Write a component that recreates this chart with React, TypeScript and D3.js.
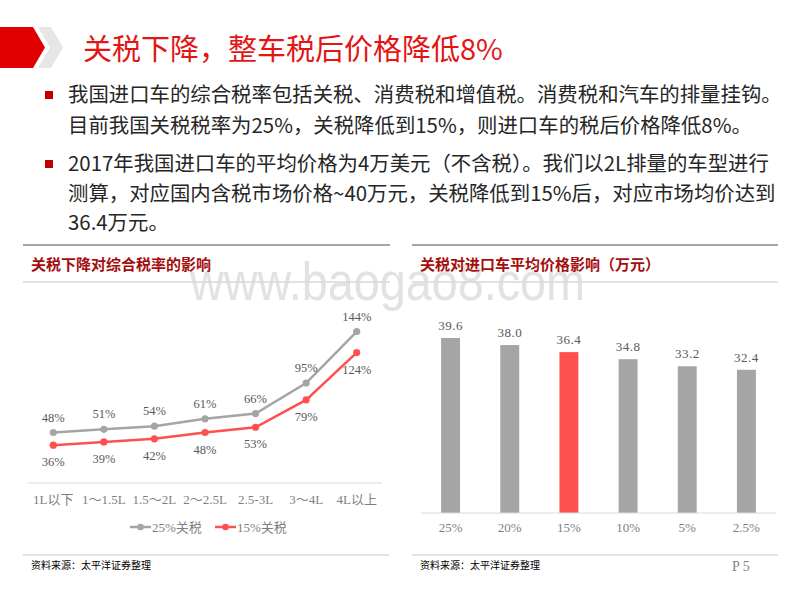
import React from "react";
import * as d3 from "d3";

const titleText = "关税下降，整车税后价格降低8%";
const bulletLines1 = [
  "我国进口车的综合税率包括关税、消费税和增值税。消费税和汽车的排量挂钩。",
  "目前我国关税税率为25%，关税降低到15%，则进口车的税后价格降低8%。",
];
const bulletLines2 = [
  "2017年我国进口车的平均价格为4万美元（不含税）。我们以2L排量的车型进行",
  "测算，对应国内含税市场价格~40万元，关税降低到15%后，对应市场均价达到",
  "36.4万元。",
];

const lineCategories = ["1L以下", "1～1.5L", "1.5～2L", "2～2.5L", "2.5-3L", "3～4L", "4L以上"];
const rate25 = [48, 51, 54, 61, 66, 95, 144];
const rate15 = [36, 39, 42, 48, 53, 79, 124];
const seriesNames = ["25%关税", "15%关税"];

const barCategories = ["25%", "20%", "15%", "10%", "5%", "2.5%"];
const barValues = [39.6, 38.0, 36.4, 34.8, 33.2, 32.4];
const highlightCategory = "15%";

const GREY = "#a5a5a5";
const RED = "#ff5050";
const CJK = "'Noto Sans CJK SC', 'Noto Sans', sans-serif";
const SERIF = "'Liberation Serif', 'DejaVu Serif', 'Noto Sans CJK SC', serif";

export default function App() {
  // Left line chart
  const xL = d3.scaleBand<string>().domain(lineCategories).range([28, 382]).padding(0);
  const cx = (c: string) => (xL(c) as number) + xL.bandwidth() / 2;
  const yL = d3.scaleLinear().domain([0, 160]).range([483, 483 - 160 * 1.052]);
  const lineGen = d3
    .line<number>()
    .x((_, i) => cx(lineCategories[i]))
    .y((d) => yL(d));

  // Right bar chart
  const xR = d3
    .scaleBand<string>()
    .domain(barCategories)
    .range([421, 776])
    .paddingInner(0.68)
    .paddingOuter(0.34);
  const yR = d3.scaleLinear().domain([0, 45]).range([513, 513 - 45 * 4.42]);

  const series = [
    { name: seriesNames[0], values: rate25, color: GREY, dy: -11 },
    { name: seriesNames[1], values: rate15, color: RED, dy: 21 },
  ];

  return (
    <svg
      width={800}
      height={600}
      style={{ position: "absolute", left: 0, top: 0, background: "#fff" }}
    >
      <rect x={0} y={0} width={800} height={600} fill="#fff" />
      {/* watermark */}
      <text
        x={190}
        y={300}
        fontFamily="'Liberation Sans', Arial, sans-serif"
        fontSize={54}
        fill="#e2e2e2"
        textLength={395}
        lengthAdjust="spacingAndGlyphs"
      >
        www.baogao8.com
      </text>

      {/* header shape */}
      <path d="M0,27 L33,27 L45,47.5 L33,68 L0,68 Z" fill="#e00000" />
      <path d="M38,27 L51,27 L63,47.5 L51,68 L38,68 L50,47.5 Z" fill="#e6e6e6" />
      <text x={83} y={60} fontFamily={CJK} fontSize={29} fill="#e31515">
        {titleText}
      </text>

      {/* bullets */}
      <rect x={45} y={91} width={8} height={8} fill="#c00000" />
      <rect x={45} y={160} width={8} height={8} fill="#c00000" />
      {bulletLines1.map((t, i) => (
        <text key={"a" + i} x={68} y={102 + i * 31} fontFamily={CJK} fontSize={20.4} fill="#262626">
          {t}
        </text>
      ))}
      {bulletLines2.map((t, i) => (
        <text key={"b" + i} x={68} y={171 + i * 29.5} fontFamily={CJK} fontSize={20.4} fill="#262626">
          {t}
        </text>
      ))}

      {/* panel frames */}
      <line x1={23} x2={390} y1={245} y2={245} stroke="#a6a6a6" strokeWidth={2} />
      <line x1={412} x2={778} y1={245} y2={245} stroke="#a6a6a6" strokeWidth={2} />
      <line x1={23} x2={390} y1={282} y2={282} stroke="#d9d9d9" strokeWidth={1.5} />
      <line x1={412} x2={778} y1={282} y2={282} stroke="#d9d9d9" strokeWidth={1.5} />
      <line x1={23} x2={389} y1={555} y2={555} stroke="#d9d9d9" strokeWidth={1.5} />
      <line x1={412} x2={778} y1={555} y2={555} stroke="#d9d9d9" strokeWidth={1.5} />
      <text x={31} y={270} fontFamily={CJK} fontSize={15} fontWeight="bold" fill="#a50d0d">
        关税下降对综合税率的影响
      </text>
      <text x={420} y={270} fontFamily={CJK} fontSize={15} fontWeight="bold" fill="#a50d0d">
        关税对进口车平均价格影响（万元）
      </text>
      <text x={31} y={569} fontFamily={CJK} fontSize={10} fill="#000">
        资料来源：太平洋证券整理
      </text>
      <text x={420} y={569} fontFamily={CJK} fontSize={10} fill="#000">
        资料来源：太平洋证券整理
      </text>
      <text x={732} y={571} fontFamily={SERIF} fontSize={14} fill="#7f7f7f">
        P 5
      </text>

      {/* left line chart */}
      <line x1={28} x2={382} y1={483} y2={483} stroke="#d9d9d9" strokeWidth={1} />
      {lineCategories.map((c) => (
        <text
          key={c}
          x={cx(c)}
          y={504}
          textAnchor="middle"
          fontFamily={SERIF}
          fontSize={13}
          fill="#7f7f7f"
        >
          {c}
        </text>
      ))}
      {series.map((s) => (
        <g key={s.name}>
          <path d={lineGen(s.values) || ""} fill="none" stroke={s.color} strokeWidth={2.5} />
          {s.values.map((v, i) => (
            <circle key={i} cx={cx(lineCategories[i])} cy={yL(v)} r={3.6} fill={s.color} />
          ))}
          {s.values.map((v, i) => (
            <text
              key={"t" + i}
              x={cx(lineCategories[i])}
              y={yL(v) + s.dy}
              textAnchor="middle"
              fontFamily={SERIF}
              fontSize={12.5}
              fill="#595959"
            >
              {v}%
            </text>
          ))}
        </g>
      ))}
      {/* legend */}
      {series.map((s, i) => {
        const lx = i === 0 ? 130 : 215;
        return (
          <g key={"lg" + i}>
            <line x1={lx} x2={lx + 21} y1={527} y2={527} stroke={s.color} strokeWidth={2.5} />
            <circle cx={lx + 10.5} cy={527} r={3.3} fill={s.color} />
            <text x={lx + 22} y={531.5} fontFamily={SERIF} fontSize={13} fill="#7f7f7f">
              {s.name}
            </text>
          </g>
        );
      })}

      {/* right bar chart */}
      {barCategories.map((c, i) => {
        const v = barValues[i];
        const x0 = xR(c) as number;
        const bw = xR.bandwidth();
        return (
          <g key={c}>
            <rect
              x={x0}
              y={yR(v)}
              width={bw}
              height={yR(0) - yR(v)}
              fill={c === highlightCategory ? RED : GREY}
            />
            <text
              x={x0 + bw / 2}
              y={yR(v) - 8}
              textAnchor="middle"
              fontFamily={SERIF}
              fontSize={13}
              fill="#595959"
              letterSpacing={0.5}
            >
              {v.toFixed(1)}
            </text>
            <text
              x={x0 + bw / 2}
              y={532}
              textAnchor="middle"
              fontFamily={SERIF}
              fontSize={13}
              fill="#7f7f7f"
            >
              {c}
            </text>
          </g>
        );
      })}
      <line x1={421} x2={776} y1={513} y2={513} stroke="#d9d9d9" strokeWidth={1} />
    </svg>
  );
}
